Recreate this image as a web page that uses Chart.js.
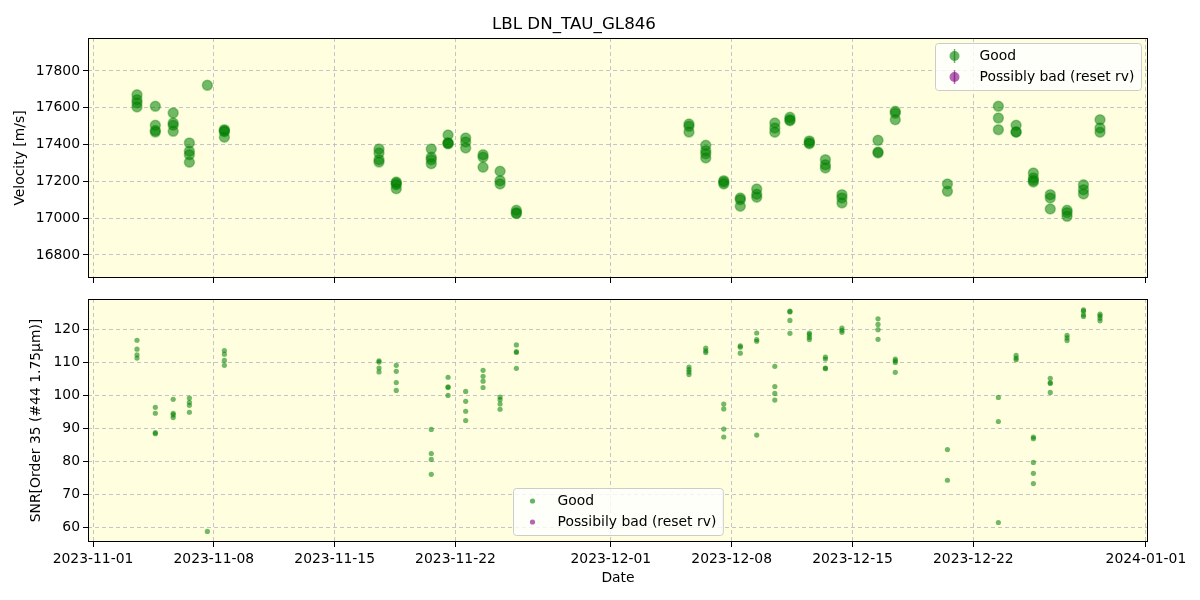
<!DOCTYPE html>
<html>
<head>
<meta charset="utf-8">
<title>LBL DN_TAU_GL846</title>
<script src="https://cdn.jsdelivr.net/npm/chart.js@4/dist/chart.umd.min.js"></script>
<style>
  body { margin: 0; background: #fff; }
  #wrap { position: relative; width: 1200px; height: 600px; }
  #top-box { position: absolute; left: 0; top: 0; }
  #bot-box { position: absolute; left: 0; top: 290px; }
</style>
</head>
<body>
<div id="wrap">
  <div id="top-box"><canvas id="rvChart" width="1200" height="290"></canvas></div>
  <div id="bot-box"><canvas id="snrChart" width="1200" height="310"></canvas></div>
</div>
<script>
/*---------------------------------------------------------------------*/
/*------------------------------ DONNEES ------------------------------*/

// one entry per night (UTC)
var nightTimes = [
  '2023-11-03T13:10', '2023-11-04T14:40', '2023-11-05T15:30', '2023-11-06T14:00',
  '2023-11-07T15:00', '2023-11-08T14:40', '2023-11-17T13:40', '2023-11-18T13:40',
  '2023-11-20T14:20', '2023-11-21T13:40', '2023-11-22T14:10', '2023-11-23T14:20',
  '2023-11-24T14:00', '2023-11-25T12:40', '2023-12-05T12:40', '2023-12-06T12:00',
  '2023-12-07T13:00', '2023-12-08T12:00', '2023-12-09T10:50', '2023-12-10T12:00',
  '2023-12-11T09:00', '2023-12-12T12:00', '2023-12-13T10:20', '2023-12-14T09:20',
  '2023-12-16T11:30', '2023-12-17T11:30', '2023-12-20T12:00', '2023-12-23T10:50',
  '2023-12-24T11:30', '2023-12-25T11:30', '2023-12-26T11:00', '2023-12-27T10:20',
  '2023-12-28T09:10', '2023-12-29T08:10'
];

// velocities [m/s] for each night, "Good" points
var rvGood = [
  [17671, 17644, 17626, 17604], [17608, 17505, 17476, 17468], [17572, 17517, 17505, 17472],
  [17409, 17364, 17345, 17304], [17722], [17481, 17475, 17470, 17440],
  [17376, 17354, 17318, 17305], [17197, 17190, 17182, 17160], [17376, 17331, 17318, 17296],
  [17452, 17410, 17407, 17404], [17436, 17414, 17382], [17345, 17331, 17277],
  [17255, 17204, 17186], [17043, 17030, 17025], [17512, 17499, 17468],
  [17396, 17367, 17350, 17327], [17204, 17195, 17186], [17110, 17100, 17065],
  [17158, 17130, 17114], [17517, 17490, 17467], [17548, 17535, 17530],
  [17420, 17410, 17405], [17318, 17290, 17273], [17128, 17110, 17083],
  [17423, 17360, 17354], [17581, 17570, 17535], [17186, 17146],
  [17608, 17544, 17481], [17505, 17470, 17467], [17245, 17218, 17205, 17197],
  [17128, 17110, 17050], [17043, 17030, 17010], [17182, 17155, 17132],
  [17535, 17490, 17467]
];

// SNR order 35 for each night, "Good" points
var snrGood = [
  [116.6, 113.9, 112.2, 111.2], [96.3, 94.5, 88.3, 88.6], [98.7, 94.5, 94.0, 93.2],
  [99.1, 97.8, 96.9, 94.8], [58.7], [113.5, 112.4, 110.5, 109.0],
  [110.4, 110.0, 108.2, 107.0], [109.0, 107.2, 103.8, 101.4], [89.6, 82.3, 80.5, 76.0],
  [105.4, 102.5, 102.3, 99.9], [101.1, 98.1, 95.1, 92.3], [107.5, 105.7, 104.2, 102.3],
  [99.4, 98.6, 97.3, 95.7], [115.2, 113.2, 112.9, 108.1], [108.5, 107.7, 107.0, 106.2],
  [114.2, 113.4, 112.9], [97.3, 95.8, 89.7, 87.3], [114.9, 114.5, 112.7],
  [118.8, 116.8, 116.3, 87.9], [108.7, 102.6, 100.5, 98.5], [125.4, 125.2, 122.6, 118.7],
  [118.8, 118.3, 117.5, 116.8], [111.5, 110.9, 108.2, 108.0], [120.3, 119.6, 119.0],
  [123.1, 121.4, 119.8, 116.9], [110.9, 110.4, 109.9, 106.9], [83.5, 74.2],
  [99.3, 92.0, 61.4], [112.0, 111.2, 110.7], [87.3, 86.8, 79.6, 76.3, 73.2],
  [105.1, 103.8, 103.5, 100.8], [118.1, 117.3, 116.5], [125.8, 125.4, 124.3, 123.8],
  [124.5, 124.0, 123.3, 122.5]
];

var xTickDates = ['2023-11-01', '2023-11-08', '2023-11-15', '2023-11-22', '2023-12-01',
  '2023-12-08', '2023-12-15', '2023-12-22', '2024-01-01'];
var rvTicks = [16800, 17000, 17200, 17400, 17600, 17800];
var snrTicks = [60, 70, 80, 90, 100, 110, 120];
var rvLegend = ['Good', 'Possibly bad (reset rv)'];
var snrLegend = ['Good', 'Possibily bad (reset rv)'];

/*---------------------------------------------------------------------*/
/*------------------------------ OUTILS -------------------------------*/

var DAY = 86400000;
function toMs(s) { return new Date(s + (s.length > 10 ? ':00Z' : 'T00:00:00Z')).getTime(); }
function pad2(n) { return n < 10 ? '0' + n : '' + n; }
function fmtDate(ms) {
  var d = new Date(ms);
  return d.getUTCFullYear() + '-' + pad2(d.getUTCMonth() + 1) + '-' + pad2(d.getUTCDate());
}
function flatten(values) {
  var pts = [];
  values.forEach(function(list, i) {
    var t = toMs(nightTimes[i]);
    list.forEach(function(v) { pts.push({x: t, y: v}); });
  });
  return pts;
}

var xMin = toMs('2023-11-01') - 0.29 * DAY;
var xMax = toMs('2024-01-01') + 0.12 * DAY;
var xTickMs = xTickDates.map(toMs);

Chart.defaults.font.family = '"DejaVu Sans", sans-serif';
Chart.defaults.font.size = 13.9;
Chart.defaults.color = '#000';

// fond jaune pâle de la zone de tracé
var areaBgPlugin = {
  id: 'areaBg',
  beforeDraw: function(chart) {
    var a = chart.chartArea, ctx = chart.ctx;
    ctx.save();
    ctx.fillStyle = '#ffffe0';
    ctx.fillRect(a.left, a.top, a.right - a.left, a.bottom - a.top);
    ctx.restore();
  }
};

// cadre noir autour de la zone de tracé
var framePlugin = {
  id: 'frame',
  afterDraw: function(chart) {
    var a = chart.chartArea, ctx = chart.ctx;
    ctx.save();
    ctx.strokeStyle = '#000';
    ctx.lineWidth = 1;
    ctx.strokeRect(Math.round(a.left) + 0.5, Math.round(a.top) + 0.5,
      Math.round(a.right - a.left) - 1, Math.round(a.bottom - a.top) - 1);
    ctx.restore();
  }
};

// légende façon matplotlib, dessinée dans la zone de tracé
var boxLegendPlugin = {
  id: 'boxLegend',
  afterDraw: function(chart, args, opts) {
    var ctx = chart.ctx, a = chart.chartArea;
    ctx.save();
    ctx.font = '13.9px "DejaVu Sans"';
    var textW = 0;
    opts.labels.forEach(function(l) { textW = Math.max(textW, ctx.measureText(l).width); });
    var w = 44 + textW + 7, h = 47;
    var x = opts.place === 'upper right' ? a.right - 7 - w : (a.left + a.right) / 2 - w / 2;
    var y = opts.place === 'upper right' ? a.top + 5 : a.bottom - 7 - h;
    x = Math.round(x) + 0.5; y = Math.round(y) + 0.5;
    ctx.fillStyle = 'rgba(255,255,255,0.8)';
    ctx.strokeStyle = '#cccccc';
    ctx.lineWidth = 1;
    ctx.beginPath();
    if (ctx.roundRect) { ctx.roundRect(x, y, w, h, 3); } else { ctx.rect(x, y, w, h); }
    ctx.fill();
    ctx.stroke();
    opts.labels.forEach(function(label, i) {
      var cy = y + 12.5 + i * 21;
      var color = opts.colors[i];
      ctx.fillStyle = color;
      ctx.strokeStyle = color;
      if (opts.errorbar) {
        ctx.lineWidth = 1.5;
        ctx.beginPath();
        ctx.moveTo(x + 19, cy - 7);
        ctx.lineTo(x + 19, cy + 7);
        ctx.stroke();
        ctx.beginPath();
        ctx.arc(x + 19, cy, 5, 0, Math.PI * 2);
        ctx.fill();
      } else {
        ctx.beginPath();
        ctx.arc(x + 19, cy, 2.6, 0, Math.PI * 2);
        ctx.fill();
      }
      ctx.fillStyle = '#000';
      ctx.textBaseline = 'middle';
      ctx.textAlign = 'left';
      ctx.fillText(label, x + 44, cy);
    });
    ctx.restore();
  }
};

function noPad(scale) {
  scale.paddingTop = 0; scale.paddingBottom = 0;
  scale.paddingLeft = 0; scale.paddingRight = 0;
}

function xScale(showLabels, height) {
  return {
    type: 'linear',
    min: xMin,
    max: xMax,
    afterBuildTicks: function(axis) {
      axis.ticks = xTickMs.map(function(v) { return {value: v}; });
    },
    afterFit: function(scale) { scale.height = height; noPad(scale); },
    ticks: {
      display: showLabels,
      autoSkip: false,
      maxRotation: 0,
      padding: 4,
      callback: function(v) { return fmtDate(v); }
    },
    grid: {
      color: 'rgba(176,176,196,0.75)',
      tickColor: '#000',
      tickLength: 5,
      tickWidth: 1,
      tickBorderDash: []
    },
    border: { display: false, dash: [4, 3] },
    title: {
      display: showLabels,
      text: 'Date',
      padding: { top: 0, bottom: 13 }
    }
  };
}

function yScale(min, max, ticks, title, titlePad) {
  return {
    min: min,
    max: max,
    afterBuildTicks: function(axis) {
      axis.ticks = ticks.map(function(v) { return {value: v}; });
    },
    afterFit: function(scale) { scale.width = 88; noPad(scale); },
    ticks: {
      padding: 3,
      callback: function(v) { return String(v); }
    },
    grid: {
      color: 'rgba(176,176,196,0.75)',
      tickColor: '#000',
      tickLength: 5,
      tickWidth: 1,
      tickBorderDash: []
    },
    border: { display: false, dash: [4, 3] },
    title: { display: true, text: title, padding: { top: titlePad, bottom: 0 } }
  };
}

/*---------------------------------------------------------------------*/
/*----------------------- GRAPHIQUE DES VITESSES ----------------------*/

var rvChart = new Chart(document.getElementById('rvChart').getContext('2d'), {
  type: 'scatter',
  data: {
    datasets: [{
      label: rvLegend[0],
      data: flatten(rvGood),
      pointRadius: 5,
      pointBorderWidth: 1.5,
      backgroundColor: 'rgba(0,128,0,0.55)',
      borderColor: 'rgba(0,128,0,0.35)'
    }, {
      label: rvLegend[1],
      data: [],
      pointRadius: 5,
      backgroundColor: 'rgba(128,0,128,0.5)',
      borderColor: 'rgba(128,0,128,0.5)'
    }]
  },
  options: {
    responsive: false,
    animation: false,
    devicePixelRatio: 1,
    layout: { padding: { left: 0, right: 52, top: 0, bottom: 0 } },
    scales: {
      x: xScale(false, 12),
      y: yScale(16675, 17979, rvTicks, 'Velocity [m/s]', 12)
    },
    plugins: {
      legend: { display: false },
      tooltip: { enabled: false },
      title: {
        display: true,
        text: 'LBL DN_TAU_GL846',
        font: { size: 16.7, weight: 'normal' },
        padding: { top: 15, bottom: 3 }
      },
      boxLegend: {
        place: 'upper right',
        errorbar: true,
        labels: rvLegend,
        colors: ['rgba(0,128,0,0.6)', 'rgba(128,0,128,0.6)']
      }
    }
  },
  plugins: [areaBgPlugin, framePlugin, boxLegendPlugin]
});

/*---------------------------------------------------------------------*/
/*-------------------------- GRAPHIQUE DU SNR -------------------------*/

var snrChart = new Chart(document.getElementById('snrChart').getContext('2d'), {
  type: 'scatter',
  data: {
    datasets: [{
      label: snrLegend[0],
      data: flatten(snrGood),
      pointRadius: 2.6,
      pointBorderWidth: 0,
      backgroundColor: 'rgba(0,128,0,0.55)',
      borderColor: 'rgba(0,128,0,0)'
    }, {
      label: snrLegend[1],
      data: [],
      pointRadius: 2.6,
      backgroundColor: 'rgba(128,0,128,0.55)'
    }]
  },
  options: {
    responsive: false,
    animation: false,
    devicePixelRatio: 1,
    layout: { padding: { left: 0, right: 52, top: 9, bottom: 0 } },
    scales: {
      x: xScale(true, 58),
      y: yScale(55.5, 129.1, snrTicks, 'SNR[Order 35 (#44 1.75\u03bcm)]', 28)
    },
    plugins: {
      legend: { display: false },
      tooltip: { enabled: false },
      boxLegend: {
        place: 'lower center',
        errorbar: false,
        labels: snrLegend,
        colors: ['rgba(0,128,0,0.6)', 'rgba(128,0,128,0.6)']
      }
    }
  },
  plugins: [areaBgPlugin, framePlugin, boxLegendPlugin]
});
</script>
</body>
</html>
